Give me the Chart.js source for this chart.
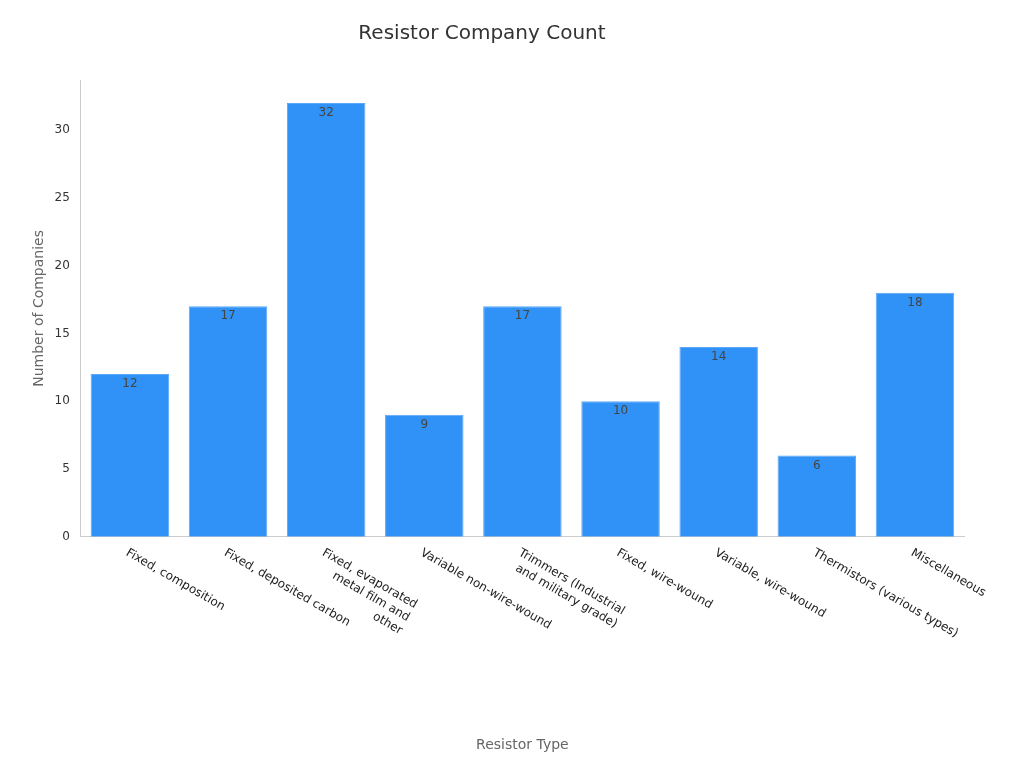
<!DOCTYPE html>
<html><head><meta charset="utf-8">
<script src="https://cdn.jsdelivr.net/npm/chart.js@4"></script>
<style>html,body{margin:0;background:#fff}</style>
</head><body><canvas id="c" width="1024" height="768" style="width:1024px;height:768px"></canvas>
<script>
const categories = [["Fixed, composition"],["Fixed, deposited carbon"],["Fixed, evaporated","metal film and","other"],["Variable non-wire-wound"],["Trimmers (Industrial","and military grade)"],["Fixed, wire-wound"],["Variable, wire-wound"],["Thermistors (various types)"],["Miscellaneous"]];
const counts = [12,17,32,9,17,10,14,6,18];
const yTicks = [0,5,10,15,20,25,30];
const F = "'DejaVu Sans', sans-serif";
const labelsPlugin = {
  id:'lp',
  afterDraw(ch){
    const ctx=ch.ctx, xs=ch.scales.x, ys=ch.scales.y, meta=ch.getDatasetMeta(0);
    ctx.save();
    ctx.font="12px "+F; ctx.fillStyle="#444"; ctx.textAlign="center"; ctx.textBaseline="top";
    meta.data.forEach((b,i)=>{ ctx.fillText(String(counts[i]), b.x, b.y+4); });
    ctx.fillStyle="#222"; ctx.textBaseline="top";
    categories.forEach((lines,i)=>{
      const x=xs.getPixelForTick(i), y=ys.bottom+10;
      ctx.save(); ctx.translate(x,y); ctx.rotate(Math.PI/6);
      const w=ctx.measureText(lines[0]).width;
      ctx.textAlign="right";
      lines.forEach((l,j)=>ctx.fillText(l, w, j*15));
      ctx.restore();
    });
    ctx.restore();
  }
};
new Chart(document.getElementById('c'),{
  type:'bar',
  data:{labels:categories.map(l=>l.join(' ')),datasets:[{data:counts,backgroundColor:'#3092f6',borderColor:'#5aa8f8',borderWidth:1,barPercentage:0.8,categoryPercentage:1}]},
  options:{
    responsive:false, animation:false, devicePixelRatio:1,
    layout:{padding:{left:0,right:60,top:10,bottom:10}},
    plugins:{legend:{display:false},tooltip:{enabled:false},
      title:{display:true,text:'Resistor Company Count',color:'#333',font:{family:F,size:20,weight:'normal'},padding:{top:12,bottom:34}}},
    scales:{
      x:{grid:{display:false},border:{color:'#ccc'},ticks:{display:true,color:'rgba(0,0,0,0)',font:{family:F,size:12},maxRotation:30,minRotation:30,padding:30},
        title:{display:true,text:'Resistor Type',color:'#666',font:{family:F,size:14},padding:{top:0}}},
      y:{min:0,max:33.7,afterBuildTicks(s){s.ticks=yTicks.map(v=>({value:v}));},
        grid:{display:false,drawTicks:true},border:{color:'#ccc'},
        ticks:{color:'#333',font:{family:F,size:12}},
        title:{display:true,text:'Number of Companies',color:'#666',font:{family:F,size:14}}}
    }
  },
  plugins:[labelsPlugin]
});
</script></body></html>
